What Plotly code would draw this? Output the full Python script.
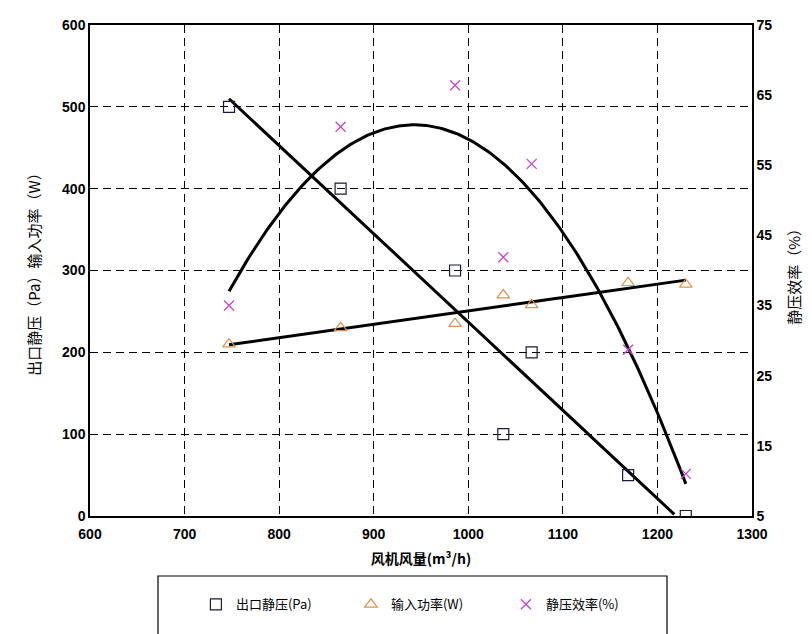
import numpy as np
import plotly.graph_objects as go

# Data
airflow = [747, 865, 986, 1037, 1067, 1169, 1230]          # 风机风量 (m3/h)
pressure = [500, 400, 300, 100, 200, 50, 0]                 # 出口静压 (Pa)
power = [210, 230, 235, 270, 258, 285, 283]                 # 输入功率 (W)
efficiency = [35, 60.5, 66.4, 41.9, 55.2, 28.7, 11]         # 静压效率 (%)

x_ticks = [600, 700, 800, 900, 1000, 1100, 1200, 1300]
y_left_ticks = [0, 100, 200, 300, 400, 500, 600]
y_right_ticks = [5, 15, 25, 35, 45, 55, 65, 75]

# Trendlines (fits of the data, like spreadsheet trendlines)
xs = np.linspace(min(airflow), max(airflow), 200)
p_fit = np.polyval(np.polyfit(airflow, pressure, 1), xs)
w_fit = np.polyval(np.polyfit(airflow, power, 1), xs)
e_fit = np.polyval(np.polyfit(airflow, efficiency, 2), xs)
mask = p_fit >= 0

fig = go.Figure()
line_style = dict(color="black", width=3)
fig.add_trace(go.Scatter(x=xs[mask], y=p_fit[mask], mode="lines", line=line_style,
                         showlegend=False, hoverinfo="skip"))
fig.add_trace(go.Scatter(x=xs, y=w_fit, mode="lines", line=line_style,
                         showlegend=False, hoverinfo="skip"))
fig.add_trace(go.Scatter(x=xs, y=e_fit, mode="lines", line=line_style, yaxis="y2",
                         showlegend=False, hoverinfo="skip"))

fig.add_trace(go.Scatter(x=airflow, y=pressure, mode="markers", name="出口静压(Pa)",
                         marker=dict(symbol="square-open", size=11, color="#1a1a3a",
                                     line=dict(width=1.2))))
fig.add_trace(go.Scatter(x=airflow, y=power, mode="markers", name="输入功率(W)",
                         marker=dict(symbol="triangle-up-open", size=11, color="#E0904A",
                                     line=dict(width=1.2))))
fig.add_trace(go.Scatter(x=airflow, y=efficiency, mode="markers", name="静压效率(%)",
                         yaxis="y2",
                         marker=dict(symbol="x-thin-open", size=10, color="#CC44CC",
                                     line=dict(width=1.3))))

tick_font = dict(family="Liberation Sans, Arial", size=14, color="black", weight="bold")
cjk = "Noto Sans CJK SC"

fig.update_layout(
    width=812, height=634,
    margin=dict(l=90, r=60, t=25, b=118, autoexpand=False),
    paper_bgcolor="white", plot_bgcolor="white",
    xaxis=dict(range=[600, 1300], tickvals=x_ticks, ticks="", showline=True,
               linecolor="black", linewidth=1.5, mirror=True, automargin=False,
               showgrid=True, gridcolor="black", gridwidth=1, griddash="8px,5px",
               zeroline=False, tickfont=tick_font, ticklabelstandoff=4,
               title=dict(text="风机风量(m³/h)", font=dict(family=cjk, size=14, color="black",
                                                        weight="bold"), standoff=14)),
    yaxis=dict(range=[0, 600], tickvals=y_left_ticks, ticks="", showline=True,
               linecolor="black", linewidth=1.5, automargin=False,
               showgrid=True, gridcolor="black", gridwidth=1, griddash="8px,5px",
               zeroline=False, tickfont=tick_font,
               title=dict(text="出口静压（Pa）输入功率（W）",
                          font=dict(family=cjk, size=15, color="black"), standoff=18)),
    yaxis2=dict(range=[5, 75], tickvals=y_right_ticks, ticks="", overlaying="y",
                side="right", showline=True, linecolor="black", linewidth=1.5,
                automargin=False,
                showgrid=False, zeroline=False, tickfont=tick_font),
    legend=dict(orientation="h", x=0.16, xanchor="left", y=-0.18, yanchor="middle",
                entrywidth=110, entrywidthmode="pixels",
                font=dict(family=cjk, size=13, color="black"), bgcolor="rgba(0,0,0,0)"),
    shapes=[dict(type="rect", xref="paper", yref="paper", x0=0.1027, x1=0.8716,
                 y0=-0.26, y1=-0.1222, line=dict(color="black", width=1.2))],
    annotations=[dict(text="静压效率（%）", xref="paper", yref="paper", x=1.082, y=0.495,
                      showarrow=False, textangle=-90,
                      font=dict(family=cjk, size=15, color="black"))],
)

fig.write_html("out.html")
